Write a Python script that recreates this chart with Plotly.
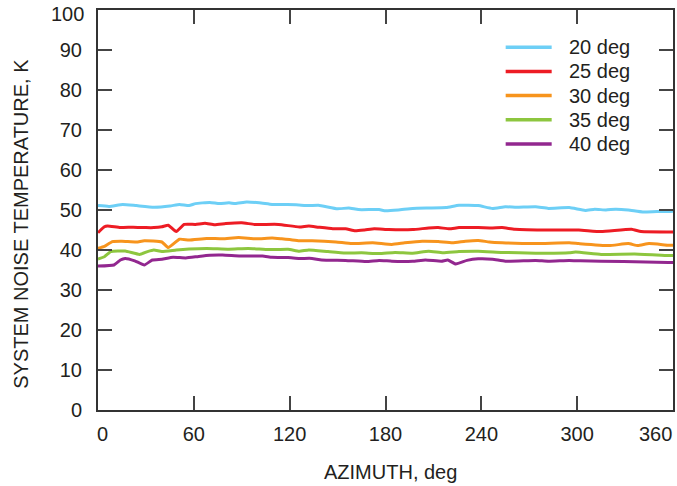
import plotly.graph_objects as go

# ---- data ----
az_20 = [0, 7, 15.5, 24, 35, 45, 51, 57, 61, 70, 76, 82, 86, 93, 101, 109, 113, 124, 132, 138, 150, 157, 163, 176, 180, 188, 197, 207, 218, 226, 238, 247, 255, 262, 274, 282, 295, 305, 311, 318, 324, 332, 341, 350, 357, 360]
t_20 = [51.1, 50.9, 51.4, 51.1, 50.7, 51.0, 51.4, 51.1, 51.6, 51.9, 51.6, 51.8, 51.6, 52.0, 51.8, 51.4, 51.4, 51.3, 51.1, 51.2, 50.3, 50.5, 50.1, 50.1, 49.8, 50.0, 50.4, 50.5, 50.6, 51.2, 51.1, 50.4, 50.8, 50.7, 50.8, 50.4, 50.6, 49.9, 50.2, 50.0, 50.2, 50.0, 49.5, 49.6, 49.6, 49.7]

az_25 = [0, 4, 6, 14, 22, 30, 35, 40, 44, 49, 54, 61, 67, 73, 80, 90, 98, 113, 126, 132, 138, 147, 155, 161, 167, 173, 182, 197, 207, 213, 220, 226, 238, 247, 253, 261, 283, 301, 315, 334, 340, 360]
t_25 = [44.3, 45.8, 46.0, 45.6, 45.7, 45.6, 45.6, 45.8, 46.2, 44.6, 46.4, 46.4, 46.7, 46.3, 46.6, 46.8, 46.4, 46.4, 45.75, 46.0, 45.7, 45.3, 45.3, 44.8, 45.0, 45.3, 45.1, 45.1, 45.5, 45.6, 45.3, 45.6, 45.6, 45.5, 45.6, 45.2, 45.0, 45.0, 44.6, 45.2, 44.6, 44.5]

az_30 = [0, 4, 9, 15, 24, 29, 40, 44, 51, 57, 68, 78, 88, 99, 109, 115, 120, 126, 134, 149, 159, 172, 184, 192, 203, 213, 222, 230, 238, 245, 253, 274, 295, 301, 320, 332, 338, 345, 357, 360]
t_30 = [40.4, 40.9, 42.1, 42.2, 42.0, 42.3, 42.0, 40.6, 42.7, 42.5, 42.9, 42.8, 43.1, 42.8, 43.0, 42.8, 42.6, 42.3, 42.3, 42.0, 41.6, 41.8, 41.4, 41.8, 42.2, 42.1, 41.8, 42.2, 42.4, 42.0, 41.8, 41.6, 41.8, 41.6, 41.1, 41.6, 41.1, 41.6, 41.2, 41.2]

az_35 = [0, 4, 8, 17, 26, 31, 35, 40, 49, 57, 68, 82, 94, 107, 119, 126, 132, 144, 155, 165, 176, 186, 197, 207, 216, 226, 238, 253, 274, 295, 299, 315, 336, 357, 360]
t_35 = [37.75, 38.3, 39.6, 39.75, 38.9, 39.6, 40.0, 39.6, 40.0, 40.25, 40.4, 40.2, 40.4, 40.1, 40.2, 39.7, 40.0, 39.6, 39.25, 39.3, 39.1, 39.4, 39.2, 39.7, 39.3, 39.6, 39.7, 39.4, 39.2, 39.3, 39.5, 38.9, 39.0, 38.6, 38.6]

az_40 = [0, 10, 14, 17, 23, 29, 34, 40, 47, 55, 63, 70, 78, 89, 103, 109, 119, 126, 134, 140, 155, 168, 176, 184, 197, 205, 215, 219, 224, 231, 238, 247, 255, 274, 282, 295, 302, 315, 343, 357, 360]
t_40 = [36.0, 36.25, 37.5, 37.9, 37.3, 36.25, 37.5, 37.7, 38.2, 38.0, 38.4, 38.7, 38.75, 38.5, 38.5, 38.2, 38.1, 37.9, 37.9, 37.5, 37.4, 37.1, 37.4, 37.2, 37.2, 37.5, 37.2, 37.5, 36.5, 37.4, 37.8, 37.7, 37.2, 37.4, 37.2, 37.4, 37.3, 37.2, 37.0, 36.9, 36.9]

series_names = ["20 deg", "25 deg", "30 deg", "35 deg", "40 deg"]
series_az = [az_20, az_25, az_30, az_35, az_40]
series_t = [t_20, t_25, t_30, t_35, t_40]
colors = ["#6DCFF6", "#ED1C24", "#F7941D", "#8DC63F", "#92278F"]

x_ticks = [0, 60, 120, 180, 240, 300, 360]
y_ticks = [0, 10, 20, 30, 40, 50, 60, 70, 80, 90, 100]
x_title = "AZIMUTH, deg"
y_title = "SYSTEM NOISE TEMPERATURE, K"

FONT = "Liberation Sans, Arial, Helvetica, sans-serif"
TXT = "#231F20"
FS = 20

fig = go.Figure()
for name, xs, ys, c in zip(series_names, series_az, series_t, colors):
    fig.add_trace(go.Scatter(x=xs, y=ys, mode="lines", name=name,
                             line=dict(color=c, width=3, shape="spline", smoothing=0.4),
                             showlegend=False))

axis_common = dict(showline=True, linecolor="#333333", linewidth=2, mirror="ticks",
                   ticks="inside", ticklen=14, tickwidth=1.5, tickcolor="#444444",
                   showgrid=False, zeroline=False,
                   tickfont=dict(family=FONT, size=FS, color=TXT))

fig.update_xaxes(range=[0, 360], tickvals=x_ticks[1:-1], ticktext=[str(v) for v in x_ticks[1:-1]],
                 ticklabelstandoff=5, **axis_common)
fig.update_yaxes(range=[0, 100], tickvals=y_ticks, ticktext=[str(v) for v in y_ticks[:-1]] + [""],
                 ticklabelstandoff=10, **axis_common)

annotations = []
# end tick labels, kept inside the window like the reference
annotations.append(dict(x=x_ticks[0], y=0, xref="x", yref="paper", text=str(x_ticks[0]), showarrow=False,
                        xanchor="left", yanchor="middle", xshift=-3, yshift=-24,
                        font=dict(family=FONT, size=FS, color=TXT)))
annotations.append(dict(x=x_ticks[-1], y=0, xref="x", yref="paper", text=str(x_ticks[-1]), showarrow=False,
                        xanchor="right", yanchor="middle", xshift=1, yshift=-24,
                        font=dict(family=FONT, size=FS, color=TXT)))
annotations.append(dict(x=0, y=y_ticks[-1], xref="paper", yref="y", text=str(y_ticks[-1]), showarrow=False,
                        xanchor="right", yanchor="middle", xshift=-12, yshift=-4,
                        font=dict(family=FONT, size=FS, color=TXT)))
# axis titles
annotations.append(dict(x=0.508, y=-0.155, xref="paper", yref="paper", text=x_title, showarrow=False,
                        xanchor="center", yanchor="middle", font=dict(family=FONT, size=FS, color=TXT)))
annotations.append(dict(x=-0.1343, y=0.465, xref="paper", yref="paper", text=y_title, showarrow=False,
                        textangle=-90, xanchor="center", yanchor="middle",
                        font=dict(family=FONT, size=FS, color=TXT)))

# manual legend
shapes = []
leg_x0, leg_x1, leg_tx = 0.709, 0.789, 0.815
leg_y0, leg_dy = 0.907, 0.0605
for i, (name, c) in enumerate(zip(series_names, colors)):
    yy = leg_y0 - i * leg_dy
    shapes.append(dict(type="line", xref="paper", yref="paper", x0=leg_x0, x1=leg_x1, y0=yy, y1=yy,
                       line=dict(color=c, width=3.5)))
    annotations.append(dict(x=leg_tx, y=yy, xref="paper", yref="paper", text=name, showarrow=False,
                            xanchor="left", yanchor="middle", font=dict(family=FONT, size=FS, color=TXT)))

fig.update_layout(width=677, height=486, margin=dict(l=98, r=2, t=10, b=76),
                  paper_bgcolor="white", plot_bgcolor="white",
                  annotations=annotations, shapes=shapes,
                  font=dict(family=FONT, size=FS, color=TXT))

fig.write_html("out.html")
